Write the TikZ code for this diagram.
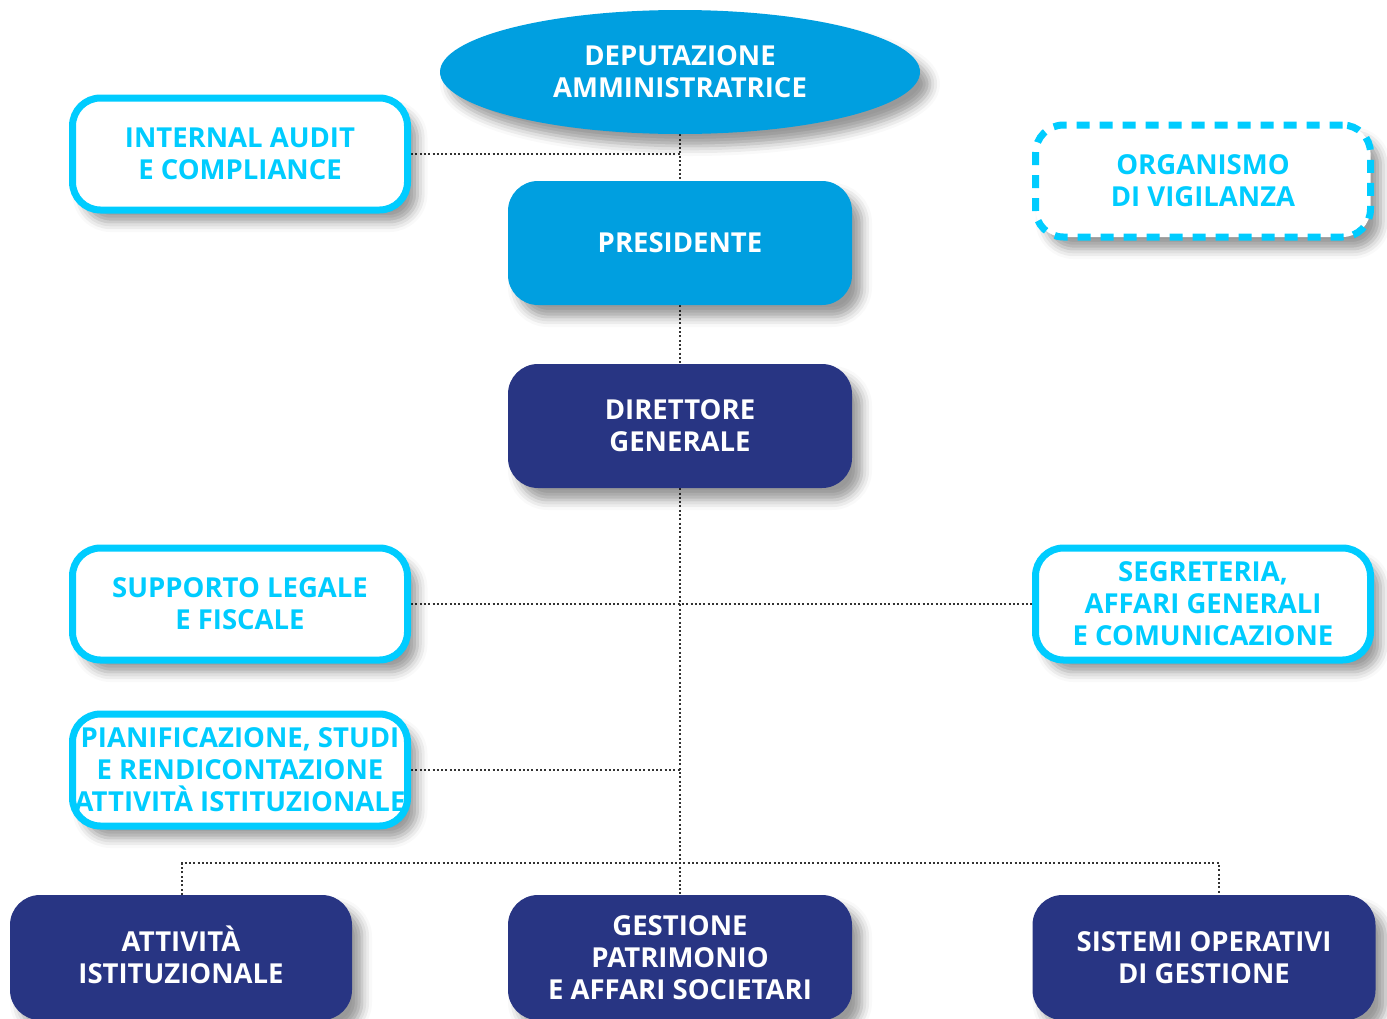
\documentclass[tikz,border=0pt]{standalone}
\usepackage{fontspec}
\setmainfont{Open Sans}
\usetikzlibrary{shapes.geometric,shadows.blur}
\definecolor{lblue}{HTML}{009FE0}
\definecolor{cyanb}{HTML}{00CCFF}
\definecolor{navy}{HTML}{283583}
\definecolor{dotc}{HTML}{333333}
\pgfdeclarelayer{bg}
\pgfsetlayers{bg,main}
\begin{document}
\begin{tikzpicture}[x=1pt,y=-1pt,
  shad/.style={blur shadow={shadow xshift=10pt,shadow yshift=-12pt,shadow blur radius=10pt,shadow opacity=40}},
  txt/.style={font=\fontsize{27.5}{32}\selectfont\bfseries,align=center,inner sep=0pt},
  solidbox/.style={txt,shad,rectangle,rounded corners=30pt,minimum width=344pt,minimum height=124pt,text=white},
  pres/.style={solidbox,fill=lblue},
  navybox/.style={solidbox,fill=navy},
  outbox/.style={txt,shad,rectangle,rounded corners=28pt,minimum width=335pt,minimum height=112pt,draw=cyanb,line width=7pt,fill=white,text=cyanb},
  dashbox/.style={outbox,dash pattern=on 13pt off 10pt},
  conn/.style={draw=dotc,line width=2.1pt,dash pattern=on 2pt off 2.3pt}
]
\useasboundingbox (0,0) rectangle (1387,1018);
\node[txt,shad,ellipse,fill=lblue,text=white,minimum width=480pt,minimum height=124pt] (dep) at (680,72) {DEPUTAZIONE\\AMMINISTRATRICE};
\node[pres] (pre) at (680,243) {PRESIDENTE};
\node[navybox] (dir) at (680,426) {DIRETTORE\\GENERALE};
\node[outbox] (ia) at (240,154) {INTERNAL AUDIT\\E COMPLIANCE};
\node[dashbox] (odv) at (1203,181) {ORGANISMO\\DI VIGILANZA};
\node[outbox] (sup) at (240,604) {SUPPORTO LEGALE\\E FISCALE};
\node[outbox] (seg) at (1203,604) {SEGRETERIA,\\AFFARI GENERALI\\E COMUNICAZIONE};
\node[outbox] (pia) at (240,770) {PIANIFICAZIONE, STUDI\\E RENDICONTAZIONE\\ATTIVITÀ ISTITUZIONALE};
\node[navybox,minimum width=342pt,minimum height=125pt] (att) at (181,957.5) {ATTIVITÀ\\ISTITUZIONALE\rule[-6pt]{0pt}{1pt}};
\node[navybox,minimum height=125pt] (ges) at (680,957.5) {GESTIONE\\PATRIMONIO\\E AFFARI SOCIETARI};
\node[navybox,minimum width=343pt,minimum height=125pt] (sis) at (1204,957.5) {SISTEMI OPERATIVI\\DI GESTIONE};
\coordinate (busL) at (182,863);
\begin{pgfonlayer}{bg}
\draw[conn] (dep.south) -- (pre.north);
\draw[conn] (pre.south) -- (dir.north);
\draw[conn] (dir.south) -- (ges.north);
\draw[conn] (ia.east) -- (ia.east -| dep.south);
\draw[conn] (sup.east) -- (seg.west);
\draw[conn] (pia.east) -- (pia.east -| dir.south);
\draw[conn] (att.north -| busL) -- (busL) -| ([xshift=15pt]sis.north);
\end{pgfonlayer}
\end{tikzpicture}
\end{document}
